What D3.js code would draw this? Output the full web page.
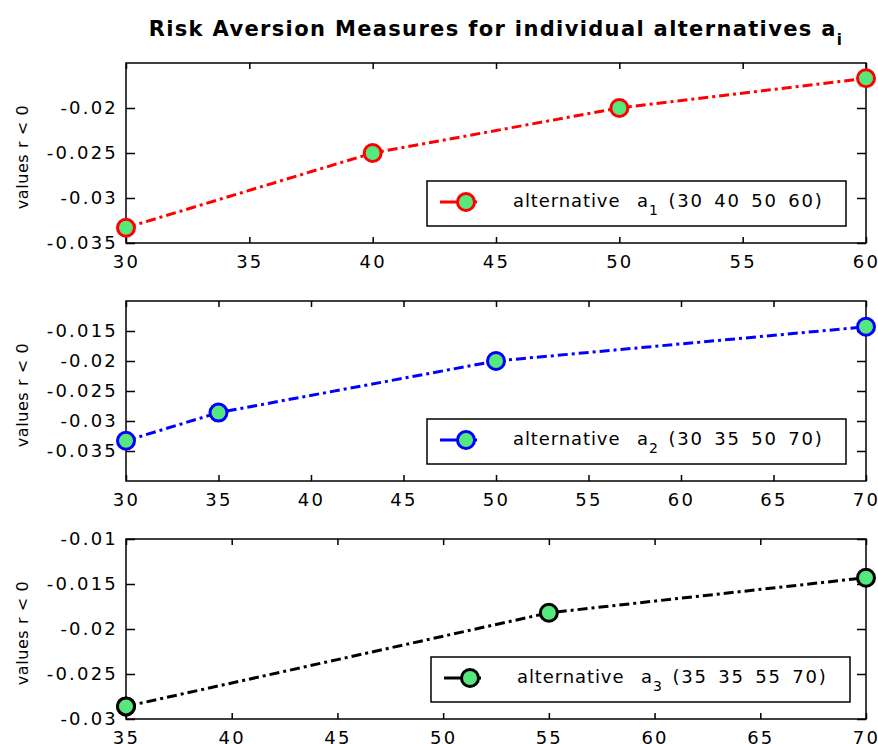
<!DOCTYPE html>
<head>
  <meta charset="utf-8">
  <script src="https://cdn.jsdelivr.net/npm/d3@7"></script>
  <style>
    body { margin: 0; background: #fff; }
    text { font-family: "DejaVu Sans", sans-serif; fill: #000; }
    text.title { font-size: 21px; font-weight: bold; letter-spacing: 1.35px; }
    .tick text { font-size: 18px; letter-spacing: 2.2px; }
    .tick line { stroke: #000; stroke-width: 1.5; }
    path.domain { display: none; }
    text.yLabel { font-size: 16px; letter-spacing: 0.6px; }
    text.legendText { font-size: 18px; }
  </style>
</head>

<body>
  <svg width="878" height="744"></svg>
  <script>
    // data
    const xA1 = [30, 40, 50, 60];
    const yA1 = [-0.0333, -0.025, -0.02, -0.0167];
    const xA2 = [30, 35, 50, 70];
    const yA2 = [-0.0333, -0.0286, -0.02, -0.0143];
    const xA3 = [35, 35, 55, 70];
    const yA3 = [-0.0286, -0.0286, -0.0182, -0.0143];

    // axis ranges and tick labels
    const xDomain1 = [30, 60], yDomain1 = [-0.035, -0.015];
    const xDomain2 = [30, 70], yDomain2 = [-0.04, -0.01];
    const xDomain3 = [35, 70], yDomain3 = [-0.03, -0.01];
    const xTicks1 = [30, 35, 40, 45, 50, 55, 60];
    const xTicks2 = [30, 35, 40, 45, 50, 55, 60, 65, 70];
    const xTicks3 = [35, 40, 45, 50, 55, 60, 65, 70];
    const yTicks1 = [-0.035, -0.03, -0.025, -0.02];
    const yTicks2 = [-0.035, -0.03, -0.025, -0.02, -0.015];
    const yTicks3 = [-0.03, -0.025, -0.02, -0.015, -0.01];

    const seriesColors = ['#ff0000', '#0000ff', '#000000'];
    const legendSubs = ['1', '2', '3'];
    const legendValues = ['(30 40 50 60)', '(30 35 50 70)', '(35 35 55 70)'];
    const markerFill = '#55e87d';

    const plotLeft = 126, plotRight = 866, panelHeight = 180;
    const panelTops = [63, 301, 539];
    const legendRightInset = [20, 20, 16];

    const panels = [
      { xs: xA1, ys: yA1, xd: xDomain1, yd: yDomain1, xt: xTicks1, yt: yTicks1 },
      { xs: xA2, ys: yA2, xd: xDomain2, yd: yDomain2, xt: xTicks2, yt: yTicks2 },
      { xs: xA3, ys: yA3, xd: xDomain3, yd: yDomain3, xt: xTicks3, yt: yTicks3 }
    ];

    const svg = d3.select('svg');
    svg.append('rect').attr('width', 878).attr('height', 744).attr('fill', '#fff');

    // title with subscript i
    let title = svg.append('text')
      .attr('class', 'title')
      .attr('x', (plotLeft + plotRight) / 2)
      .attr('y', 36)
      .attr('text-anchor', 'middle');
    title.append('tspan').text('Risk Aversion Measures for individual alternatives a');
    title.append('tspan').attr('dy', 9).attr('font-size', 15).text('i');

    panels.forEach((p, i) => {
      const top = panelTops[i], bottom = top + panelHeight;
      const x = d3.scaleLinear().domain(p.xd).range([plotLeft, plotRight]);
      const y = d3.scaleLinear().domain(p.yd).range([bottom, top]);
      const g = svg.append('g');

      // axes with inward ticks
      g.append('g').attr('transform', `translate(0, ${bottom})`)
        .call(d3.axisBottom(x).tickValues(p.xt).tickSize(-6).tickSizeOuter(0).tickPadding(12).tickFormat(d => d));
      g.append('g').attr('transform', `translate(0, ${top})`)
        .call(d3.axisTop(x).tickValues(p.xt).tickSize(-6).tickSizeOuter(0).tickFormat(''));
      g.append('g').attr('transform', `translate(${plotLeft}, 0)`)
        .call(d3.axisLeft(y).tickValues(p.yt).tickSize(-9).tickSizeOuter(0).tickPadding(8).tickFormat(d => String(d)));
      g.append('g').attr('transform', `translate(${plotRight}, 0)`)
        .call(d3.axisRight(y).tickValues(p.yt).tickSize(-9).tickSizeOuter(0).tickFormat(''));

      // frame
      g.append('rect')
        .attr('x', plotLeft).attr('y', top)
        .attr('width', plotRight - plotLeft).attr('height', panelHeight)
        .attr('fill', 'none').attr('stroke', '#000').attr('stroke-width', 1.5);

      // y label
      g.append('text')
        .attr('class', 'yLabel')
        .attr('transform', `translate(28, ${top + panelHeight / 2 + 4}) rotate(-90)`)
        .attr('text-anchor', 'middle')
        .text('values r < 0');

      // series
      const pts = p.xs.map((v, k) => [v, p.ys[k]]);
      g.append('path')
        .datum(pts)
        .attr('d', d3.line().x(d => x(d[0])).y(d => y(d[1])))
        .attr('fill', 'none')
        .attr('stroke', seriesColors[i])
        .attr('stroke-width', 3)
        .attr('stroke-dasharray', '10,4,3,4');
      g.selectAll('circle.pt')
        .data(pts)
        .enter()
        .append('circle')
        .attr('class', 'pt')
        .attr('cx', d => x(d[0]))
        .attr('cy', d => y(d[1]))
        .attr('r', 8.5)
        .attr('fill', markerFill)
        .attr('stroke', seriesColors[i])
        .attr('stroke-width', 3);

      // legend box
      const lw = 419, lh = 45;
      const lg = g.append('g')
        .attr('transform', `translate(${plotRight - legendRightInset[i] - lw}, ${bottom - 62})`);
      lg.append('rect')
        .attr('width', lw).attr('height', lh)
        .attr('fill', '#fff').attr('stroke', '#000').attr('stroke-width', 1.5);
      lg.append('line')
        .attr('x1', 13).attr('x2', 58).attr('y1', 21).attr('y2', 21)
        .attr('stroke', seriesColors[i]).attr('stroke-width', 3)
        .attr('stroke-dasharray', '22,12,3,20');
      lg.append('circle')
        .attr('cx', 39).attr('cy', 21).attr('r', 8.5)
        .attr('fill', markerFill)
        .attr('stroke', seriesColors[i]).attr('stroke-width', 3);
      const lt = lg.append('text')
        .attr('class', 'legendText')
        .attr('x', 86).attr('y', 26);
      lt.append('tspan')
        .style('letter-spacing', '0.9px').style('word-spacing', '10px')
        .text('alternative a');
      lt.append('tspan').attr('dy', 8).attr('font-size', 14).text(legendSubs[i]);
      lt.append('tspan').attr('dy', -8)
        .style('letter-spacing', '1.8px').style('word-spacing', '3px')
        .text(' ' + legendValues[i]);
    });
  </script>
</body>
